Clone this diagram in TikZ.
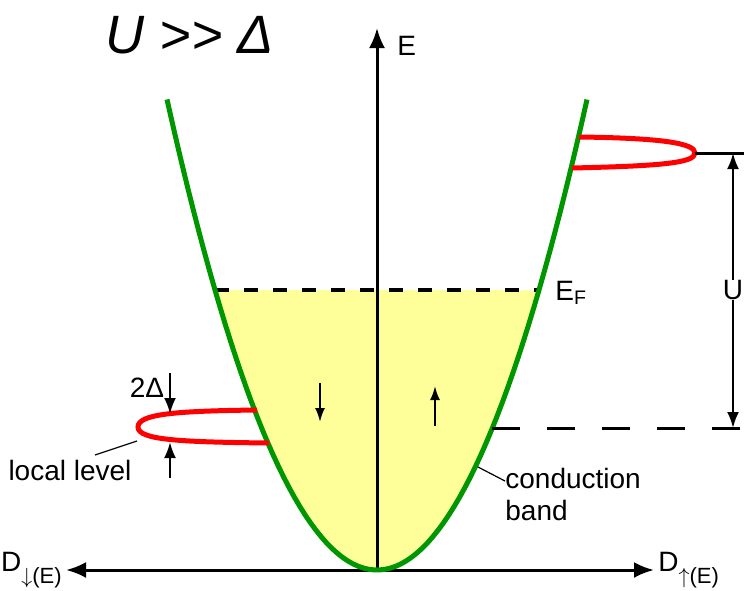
\documentclass[tikz,border=0pt]{standalone}
\usepackage{fontspec}
\setmainfont{Liberation Sans}
\usetikzlibrary{arrows.meta,positioning}
\definecolor{bandgreen}{RGB}{0,150,0}
\definecolor{fillyellow}{RGB}{255,255,153}
\tikzstyle{band} = [bandgreen, line width=2.5pt]
\tikzstyle{level} = [red, line width=2.5pt]
\tikzstyle{axis} = [line width=1.5pt, -{Latex[length=10pt,width=8pt]}]
\tikzstyle{spin} = [line width=1pt, -{Latex[length=7pt,width=5pt]}]
\tikzstyle{lbl} = [inner sep=0pt, font=\fontsize{14pt}{16pt}\selectfont]

\begin{document}
\begin{tikzpicture}[x=0.5pt, y=-0.5pt]
\useasboundingbox (0,0) rectangle (744,590);
% filled states below E_F
\fill[fillyellow] plot[domain=-1.62:1.62, samples=60] ({377+100*\x},{570-106.7*\x*\x}) -- cycle;
% axes
\coordinate (O) at (377,570);
\coordinate (Etop) at (377,28);
\coordinate (Dl) at (66,570);
\coordinate (Dr) at (654,570);
\draw[axis] (O) -- (Etop);
\draw[axis] (O) -- (Dl);
\draw[axis] (O) -- (Dr);
\node[lbl, right=10pt of Etop, yshift=-9pt] (E) {E};
\node[lbl, left=2pt of Dl] (Dlbl) {D\raisebox{-6pt}{\fontsize{11pt}{12pt}\selectfont$\downarrow$(E)}};
\node[lbl, right=2pt of Dr] (Drbl) {D\raisebox{-6pt}{\fontsize{11pt}{12pt}\selectfont$\uparrow$(E)}};
% Fermi level
\coordinate (EFl) at (215,290);
\coordinate (EFr) at (540,290);
\draw[line width=2pt, dash pattern=on 7pt off 7.5pt] (EFl) -- (EFr);
\node[lbl, anchor=west] (EF) at (555,293) {E\textsubscript{F}};
% conduction band
\draw[band] plot[domain=-2.1:2.1, samples=80] ({377+100*\x},{570-106.7*\x*\x});
% spins
\coordinate (sd) at (320,383);
\coordinate (su) at (435,426);
\draw[spin] (sd) -- ++(0,39);
\draw[spin] (su) -- ++(0,-40);
% local level
\coordinate (tipL) at (138,427);
\draw[level] (257,410) .. controls (175,411) and (138,414) .. (tipL)
  .. controls (138,440) and (180,442) .. (269,443);
\coordinate (wt) at (170,373);
\coordinate (wb) at (170,478);
\draw[line width=1.2pt, -{Latex[length=8pt,width=6pt]}] (wt) -- (170,414);
\draw[line width=1.2pt, -{Latex[length=8pt,width=6pt]}] (wb) -- (170,442);
\node[lbl] (width) at (147,388) {2Δ};
\node[lbl] (loc) at (70,470) {local level};
\draw[line width=0.6pt] (95,455) -- (137,441);
% upper level
\coordinate (tipU) at (695,153);
\coordinate (Uend) at (744,153);
\draw[level] (579,137) .. controls (660,138) and (695,143) .. (tipU)
  .. controls (695,163) and (660,166) .. (572,168);
\draw[line width=1.5pt] (tipU) -- (Uend);
% lower level line
\coordinate (Ll) at (492,428);
\coordinate (Lr) at (740,428);
\draw[line width=1.5pt, dash pattern=on 14pt off 13.5pt] (Ll) -- (Lr);
% U
\node[lbl] (U) at (733,290) {U};
\draw[line width=1.2pt, -{Latex[length=8pt,width=6pt]}] (U) -- (733,153);
\draw[line width=1.2pt, -{Latex[length=8pt,width=6pt]}] (U) -- (733,428);
% conduction band label
\node[lbl, anchor=west, align=left] (cb) at (505,494) {conduction\\band};
\coordinate (cbl) at (505,481);
\draw[line width=0.6pt] (478,467) -- (cbl);
% title
\node[inner sep=0pt, font=\fontsize{27pt}{30pt}\selectfont\itshape] (title) at (190,35) {U {>}{>} Δ};
\end{tikzpicture}
\end{document}
